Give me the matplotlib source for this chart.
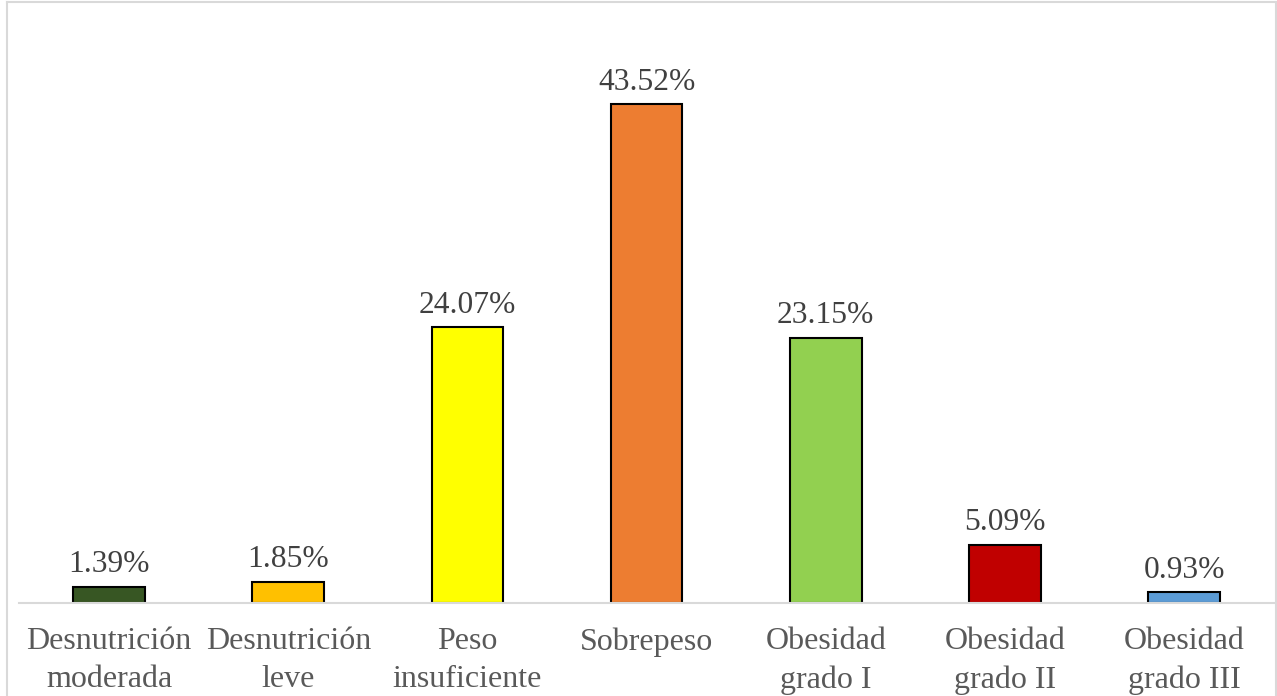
import matplotlib
matplotlib.use("Agg")
import matplotlib.pyplot as plt
from matplotlib.lines import Line2D

categories = ["Desnutrición\nmoderada", "Desnutrición\nleve", "Peso\ninsuficiente",
              "Sobrepeso", "Obesidad\ngrado I", "Obesidad\ngrado II", "Obesidad\ngrado III"]
values = [1.39, 1.85, 24.07, 43.52, 23.15, 5.09, 0.93]
colors = ["#375623", "#FFC000", "#FFFF00", "#ED7D31", "#92D050", "#C00000", "#5B9BD5"]

plt.rcParams["font.family"] = ["Liberation Serif", "DejaVu Serif"]

W, H = 1277, 696
fig = plt.figure(figsize=(W / 100, H / 100), dpi=100)
ax = fig.add_axes([19.4 / W, (H - 603) / H, 1254.4 / W, 573 / H])

x = list(range(len(values)))
bars = ax.bar(x, values, width=0.4, color=colors, edgecolor="black", linewidth=1.5, zorder=3)

for xi, v in zip(x, values):
    ax.annotate(f"{v:.2f}%", (xi, v), xytext=(0, 10.5), textcoords="offset points",
                ha="center", va="baseline", fontsize=22.7, color="#404040")

ax.set_xlim(-0.5, len(values) - 0.5)
ax.set_ylim(0, 50)
ax.set_yticks([])
ax.set_xticks(x)
ax.set_xticklabels(categories, fontsize=23, color="#595959", linespacing=1.40)
ax.tick_params(axis="x", length=0, pad=17.5)

for side in ("top", "right", "left"):
    ax.spines[side].set_visible(False)
ax.spines["bottom"].set_color("#D9D9D9")
ax.spines["bottom"].set_linewidth(1.5)
ax.spines["bottom"].set_zorder(4)

# Chart frame
fx0, fx1 = 6.5 / W, 1275.5 / W
fy1 = 1 - 1.5 / H
frame_kw = dict(color="#D9D9D9", linewidth=1.5, transform=fig.transFigure)
fig.add_artist(Line2D([fx0, fx0], [0, fy1], **frame_kw))
fig.add_artist(Line2D([fx0, fx1], [fy1, fy1], **frame_kw))
fig.add_artist(Line2D([fx1, fx1], [0, fy1], **frame_kw))

fig.savefig("out.png", dpi=100, facecolor="white")
